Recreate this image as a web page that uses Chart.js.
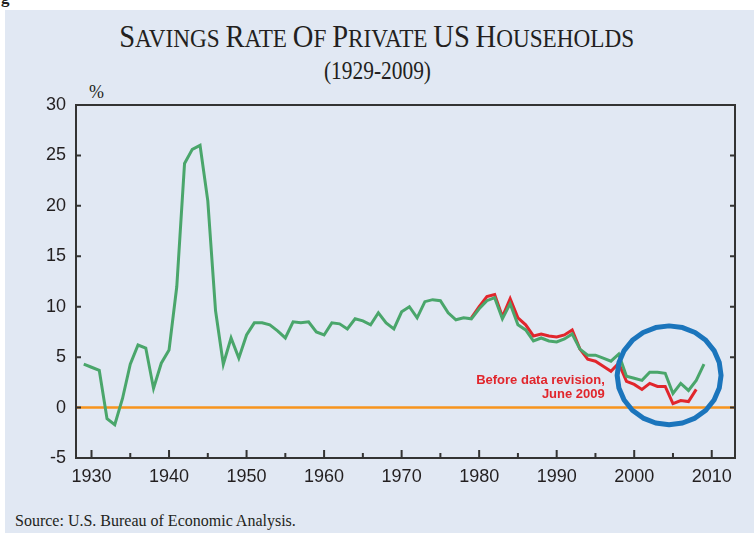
<!DOCTYPE html>
<html>
<head>
<meta charset="utf-8">
<script src="https://cdn.jsdelivr.net/npm/chart.js@4.4.0/dist/chart.umd.min.js"></script>
<style>
    html, body { margin: 0; padding: 0; background: #fff; }
    body { width: 754px; height: 535px; position: relative; overflow: hidden; }
    #panel { position: absolute; left: 5px; top: 10px; width: 749px; height: 523px; background: #e1e8f3; }
    #chartBox { position: absolute; left: 0; top: 0; width: 754px; height: 535px; }
    .txt { position: absolute; font-family: 'Liberation Serif', 'Times New Roman', serif; color: #231f20; white-space: nowrap; }
    #title { top: 18px; left: 0; width: 754px; text-align: center; font-size: 26px; }
    #title .cap { font-size: 32px; }
    #title .inner, #subtitle .inner { display: inline-block; transform-origin: center; }
    #subtitle { top: 57px; left: 0; width: 754px; text-align: center; font-size: 25px; }
    #unit { left: 89px; top: 82px; font-size: 18px; }
    #source { left: 15px; top: 512px; font-size: 16px; }
    #frag { left: 1px; top: -12px; font-size: 17px; font-weight: bold; }
</style>
</head>
<body>
<div id="panel"></div>
<div class="txt" id="frag">g</div>
<div class="txt" id="title"><span class="inner"><span class="cap">S</span>AVINGS <span class="cap">R</span>ATE <span class="cap">O</span>F <span class="cap">P</span>RIVATE <span class="cap">US</span> <span class="cap">H</span>OUSEHOLDS</span></div>
<div class="txt" id="subtitle"><span class="inner">(1929-2009)</span></div>
<div class="txt" id="unit">%</div>
<div class="txt" id="source">Source: U.S. Bureau of Economic Analysis.</div>
<div id="chartBox"><canvas id="savingsChart" width="754" height="535"></canvas></div>

<script>
// 数据：年份与储蓄率（%）
const years = [
    1929, 1930, 1931, 1932, 1933, 1934, 1935, 1936, 1937, 1938, 1939,
    1940, 1941, 1942, 1943, 1944, 1945, 1946, 1947, 1948, 1949,
    1950, 1951, 1952, 1953, 1954, 1955, 1956, 1957, 1958, 1959,
    1960, 1961, 1962, 1963, 1964, 1965, 1966, 1967, 1968, 1969,
    1970, 1971, 1972, 1973, 1974, 1975, 1976, 1977, 1978, 1979,
    1980, 1981, 1982, 1983, 1984, 1985, 1986, 1987, 1988, 1989,
    1990, 1991, 1992, 1993, 1994, 1995, 1996, 1997, 1998, 1999,
    2000, 2001, 2002, 2003, 2004, 2005, 2006, 2007, 2008, 2009
];
const savingsRevised = [
    4.3, 4.0, 3.7, -1.1, -1.7, 0.9, 4.3, 6.2, 5.9, 1.9, 4.4,
    5.7, 12.0, 24.2, 25.6, 26.0, 20.5, 9.6, 4.3, 6.9, 4.9,
    7.2, 8.4, 8.4, 8.2, 7.6, 6.9, 8.5, 8.4, 8.5, 7.5,
    7.2, 8.4, 8.3, 7.8, 8.8, 8.6, 8.2, 9.4, 8.4, 7.8,
    9.5, 10.0, 8.9, 10.5, 10.7, 10.6, 9.4, 8.7, 8.9, 8.8,
    9.8, 10.6, 10.9, 8.8, 10.3, 8.2, 7.7, 6.6, 6.9, 6.6,
    6.5, 6.8, 7.3, 5.8, 5.2, 5.2, 4.9, 4.6, 5.3, 3.1,
    2.9, 2.7, 3.5, 3.5, 3.4, 1.4, 2.4, 1.7, 2.7, 4.3
];

// 修订前数据（2009年6月）
const yearsBefore = [
    1979, 1980, 1981, 1982, 1983, 1984, 1985, 1986, 1987, 1988, 1989,
    1990, 1991, 1992, 1993, 1994, 1995, 1996, 1997, 1998, 1999,
    2000, 2001, 2002, 2003, 2004, 2005, 2006, 2007, 2008
];
const savingsBefore = [
    8.9, 10.0, 11.0, 11.2, 9.0, 10.8, 8.9, 8.2, 7.1, 7.3, 7.1,
    7.0, 7.2, 7.7, 5.8, 4.8, 4.6, 4.1, 3.6, 4.4, 2.6,
    2.3, 1.8, 2.4, 2.1, 2.1, 0.4, 0.7, 0.6, 1.8
];

// 坐标轴刻度
const xTickLabels = [1930, 1940, 1950, 1960, 1970, 1980, 1990, 2000, 2010];
const xMinorTicks = [1935, 1945, 1955, 1965, 1975, 1985, 1995, 2005];
const yTickLabels = [-5, 0, 5, 10, 15, 20, 25, 30];

// 注释
const noteLines = ['Before data revision,', 'June 2009'];
const noteAnchor = { year: 1996.2, value: 2.7 };
const circleCenter = { year: 2004.5, value: 3.2 };
const circleRadius = { years: 6.7, value: 4.9 };

const GREEN = '#4aa66b';
const RED = '#e1262c';
const ORANGE = '#f7941d';
const BLUE = '#1b75bc';
const FRAME = '#333333';

// 标题压缩以贴合参考宽度
function fitWidth(id, target) {
    const inner = document.querySelector('#' + id + ' .inner');
    const w = inner.getBoundingClientRect().width;
    inner.style.transform = 'scaleX(' + (target / w) + ')';
}
fitWidth('title', 515);
fitWidth('subtitle', 107);

const framePlugin = {
    id: 'framePlugin',
    beforeDatasetsDraw(chart) {
        const { ctx, chartArea, scales } = chart;
        const y0 = scales.y.getPixelForValue(0);
        ctx.save();
        ctx.strokeStyle = ORANGE;
        ctx.lineWidth = 2.5;
        ctx.beginPath();
        ctx.moveTo(chartArea.left, y0);
        ctx.lineTo(chartArea.right, y0);
        ctx.stroke();
        ctx.restore();
    },
    afterDatasetsDraw(chart) {
        const { ctx, scales } = chart;
        const x = scales.x, y = scales.y;

        // 蓝色圆圈
        const cx = x.getPixelForValue(circleCenter.year);
        const cy = y.getPixelForValue(circleCenter.value);
        const rx = x.getPixelForValue(circleCenter.year + circleRadius.years) - cx;
        const ry = cy - y.getPixelForValue(circleCenter.value + circleRadius.value);
        const sides = 24;
        ctx.save();
        ctx.strokeStyle = BLUE;
        ctx.lineWidth = 5;
        ctx.lineJoin = 'round';
        ctx.beginPath();
        for (let i = 0; i <= sides; i++) {
            const a = (i / sides) * Math.PI * 2;
            const px = cx + rx * Math.cos(a);
            const py = cy + ry * Math.sin(a);
            if (i === 0) ctx.moveTo(px, py); else ctx.lineTo(px, py);
        }
        ctx.closePath();
        ctx.stroke();

        // 红色注释文字
        ctx.fillStyle = RED;
        ctx.font = 'bold 13px "Liberation Sans", Arial, sans-serif';
        ctx.textAlign = 'right';
        ctx.textBaseline = 'middle';
        const tx = x.getPixelForValue(noteAnchor.year);
        const ty = y.getPixelForValue(noteAnchor.value);
        noteLines.forEach((line, i) => ctx.fillText(line, tx, ty + i * 14));
        ctx.restore();
    },
    afterDraw(chart) {
        const { ctx, chartArea, scales } = chart;
        const { left, right, top, bottom } = chartArea;
        ctx.save();
        ctx.strokeStyle = FRAME;
        ctx.lineWidth = 2;
        ctx.strokeRect(left, top, right - left, bottom - top);

        ctx.beginPath();
        // 左右两侧向内刻度
        yTickLabels.forEach(v => {
            const py = scales.y.getPixelForValue(v);
            ctx.moveTo(left, py);
            ctx.lineTo(left + 5, py);
            ctx.moveTo(right, py);
            ctx.lineTo(right - 5, py);
        });
        // 底部刻度
        xTickLabels.forEach(v => {
            const px = scales.x.getPixelForValue(v);
            ctx.moveTo(px, bottom);
            ctx.lineTo(px, bottom - 8);
        });
        xMinorTicks.forEach(v => {
            const px = scales.x.getPixelForValue(v);
            ctx.moveTo(px, bottom);
            ctx.lineTo(px, bottom - 5);
        });
        ctx.stroke();
        ctx.restore();
    }
};

const tickFont = { family: '"Liberation Sans Narrow", "Arial Narrow", "Liberation Sans", sans-serif', size: 18 };

new Chart(document.getElementById('savingsChart'), {
    type: 'line',
    data: {
        datasets: [
            {
                label: 'Revised',
                data: years.map((yr, i) => ({ x: yr, y: savingsRevised[i] })),
                borderColor: GREEN,
                borderWidth: 3,
                pointRadius: 0,
                tension: 0
            },
            {
                label: 'Before data revision, June 2009',
                data: yearsBefore.map((yr, i) => ({ x: yr, y: savingsBefore[i] })),
                borderColor: RED,
                borderWidth: 3,
                pointRadius: 0,
                tension: 0
            }
        ]
    },
    options: {
        responsive: false,
        animation: false,
        devicePixelRatio: 1,
        layout: { padding: { left: 16, right: 19, top: 105, bottom: 0 } },
        plugins: {
            legend: { display: false },
            tooltip: { enabled: false }
        },
        scales: {
            x: {
                type: 'linear',
                min: 1928,
                max: 2013,
                grid: { display: false, drawTicks: false },
                border: { display: false },
                afterBuildTicks: scale => { scale.ticks = xTickLabels.map(v => ({ value: v })); },
                afterFit: scale => { scale.height = 77; },
                ticks: {
                    color: '#231f20',
                    font: tickFont,
                    padding: 8,
                    maxRotation: 0,
                    autoSkip: false,
                    callback: v => String(v)
                }
            },
            y: {
                min: -5,
                max: 30,
                grid: { display: false, drawTicks: false },
                border: { display: false },
                afterBuildTicks: scale => { scale.ticks = yTickLabels.map(v => ({ value: v })); },
                afterFit: scale => { scale.width = 60; },
                ticks: {
                    color: '#231f20',
                    font: tickFont,
                    padding: 10
                }
            }
        }
    },
    plugins: [framePlugin]
});
</script>
</body>
</html>
